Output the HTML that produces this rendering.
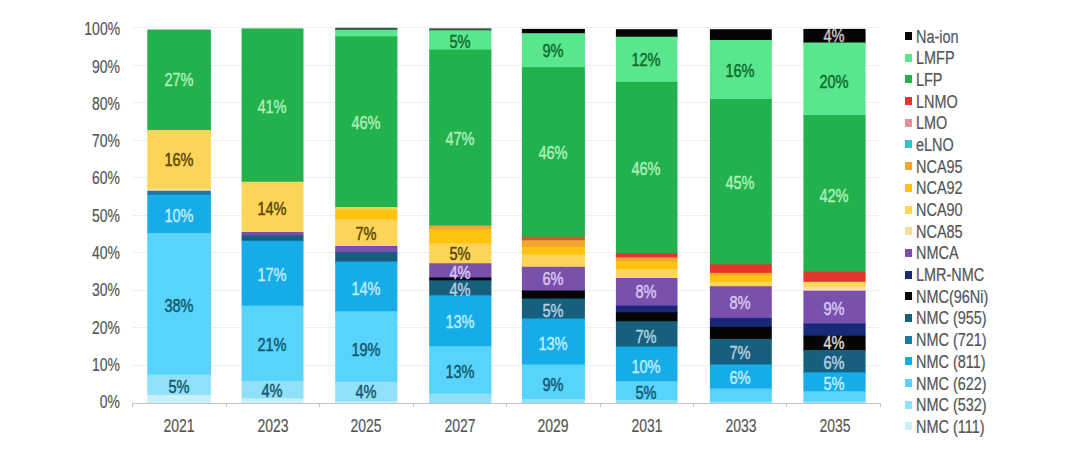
<!DOCTYPE html>
<html><head><meta charset="utf-8"><title>Battery chemistry mix</title>
<style>
html,body{margin:0;padding:0;background:#fff;}
body{width:1082px;height:449px;position:relative;overflow:hidden;font-family:"Liberation Sans",Arial,sans-serif;}
.g{position:absolute;left:131.5px;width:748.5px;height:1px;background:#efefef;}
.ax{position:absolute;left:131.5px;width:749.5px;height:1px;top:403px;background:#c4c4c4;}
.tk{position:absolute;top:403px;width:1px;height:4px;background:#c4c4c4;}
.yl{position:absolute;right:962.4px;font-size:18px;line-height:18px;color:#555;-webkit-text-stroke:0.2px #555;transform-origin:100% 50%;transform:translateY(-50%) scaleX(.775);white-space:nowrap;}
.xl{position:absolute;top:416.7px;font-size:18px;line-height:18px;color:#555;-webkit-text-stroke:0.2px #555;transform:translateX(-50%) scaleX(.775);white-space:nowrap;}
.s{position:absolute;}
.dl{position:absolute;font-size:18px;line-height:18px;-webkit-text-stroke:0.45px currentColor;transform:translate(-50%,-50%) scaleX(.81);white-space:nowrap;}
.lg{position:absolute;left:905px;width:7px;height:8px;}
.lt{position:absolute;left:916px;font-size:18px;line-height:18px;color:#555;-webkit-text-stroke:0.2px #555;transform-origin:0 50%;transform:translateY(-50%) scaleX(.803);white-space:nowrap;}
</style></head><body>

<div class="g" style="top:364.5px"></div>
<div class="g" style="top:327.0px"></div>
<div class="g" style="top:289.5px"></div>
<div class="g" style="top:252.0px"></div>
<div class="g" style="top:214.5px"></div>
<div class="g" style="top:177.0px"></div>
<div class="g" style="top:139.5px"></div>
<div class="g" style="top:102.0px"></div>
<div class="g" style="top:64.5px"></div>
<div class="g" style="top:27.0px"></div>
<div class="ax"></div>
<div class="tk" style="left:132.2px"></div>
<div class="tk" style="left:225.6px"></div>
<div class="tk" style="left:319.1px"></div>
<div class="tk" style="left:412.6px"></div>
<div class="tk" style="left:506.0px"></div>
<div class="tk" style="left:599.5px"></div>
<div class="tk" style="left:692.9px"></div>
<div class="tk" style="left:786.3px"></div>
<div class="tk" style="left:879.8px"></div>
<div class="yl" style="top:402.1px">0%</div>
<div class="yl" style="top:364.8px">10%</div>
<div class="yl" style="top:327.5px">20%</div>
<div class="yl" style="top:290.3px">30%</div>
<div class="yl" style="top:253.0px">40%</div>
<div class="yl" style="top:215.7px">50%</div>
<div class="yl" style="top:178.4px">60%</div>
<div class="yl" style="top:141.1px">70%</div>
<div class="yl" style="top:103.9px">80%</div>
<div class="yl" style="top:66.6px">90%</div>
<div class="yl" style="top:29.3px">100%</div>
<svg width="1082" height="449" style="position:absolute;left:0;top:0">
<rect x="147.30" y="29.50" width="63.60" height="101.50" fill="#22b14c"/>
<rect x="147.30" y="130.00" width="63.60" height="59.50" fill="#fcd458"/>
<rect x="147.30" y="188.50" width="63.60" height="3.30" fill="#fbdca0"/>
<rect x="147.30" y="190.80" width="63.60" height="5.00" fill="#1b7aa5"/>
<rect x="147.30" y="194.80" width="63.60" height="39.20" fill="#15ace8"/>
<rect x="147.30" y="233.00" width="63.60" height="142.50" fill="#58d4fc"/>
<rect x="147.30" y="374.50" width="63.60" height="21.50" fill="#90e0f7"/>
<rect x="147.30" y="395.00" width="63.60" height="8.00" fill="#caeffa"/>
<rect x="241.60" y="28.40" width="61.90" height="154.30" fill="#22b14c"/>
<rect x="241.60" y="181.70" width="61.90" height="51.30" fill="#fcd458"/>
<rect x="241.60" y="232.00" width="61.90" height="4.40" fill="#7a50ad"/>
<rect x="241.60" y="235.40" width="61.90" height="6.30" fill="#16607e"/>
<rect x="241.60" y="240.70" width="61.90" height="65.90" fill="#15ace8"/>
<rect x="241.60" y="305.60" width="61.90" height="76.20" fill="#58d4fc"/>
<rect x="241.60" y="380.80" width="61.90" height="18.60" fill="#90e0f7"/>
<rect x="241.60" y="398.40" width="61.90" height="4.60" fill="#caeffa"/>
<rect x="335.20" y="27.80" width="62.20" height="3.00" fill="#33583f"/>
<rect x="335.20" y="29.80" width="62.20" height="7.60" fill="#5ae68c"/>
<rect x="335.20" y="36.40" width="62.20" height="171.60" fill="#22b14c"/>
<rect x="335.20" y="207.00" width="62.20" height="4.10" fill="#eed24a"/>
<rect x="335.20" y="210.10" width="62.20" height="10.40" fill="#ffc20e"/>
<rect x="335.20" y="219.50" width="62.20" height="27.50" fill="#fcd458"/>
<rect x="335.20" y="246.00" width="62.20" height="7.20" fill="#7a50ad"/>
<rect x="335.20" y="252.20" width="62.20" height="10.40" fill="#16607e"/>
<rect x="335.20" y="261.60" width="62.20" height="50.60" fill="#15ace8"/>
<rect x="335.20" y="311.20" width="62.20" height="71.40" fill="#58d4fc"/>
<rect x="335.20" y="381.60" width="62.20" height="20.90" fill="#90e0f7"/>
<rect x="335.20" y="401.50" width="62.20" height="1.50" fill="#caeffa"/>
<rect x="429.20" y="28.30" width="62.20" height="3.30" fill="#33583f"/>
<rect x="429.20" y="30.30" width="62.20" height="20.30" fill="#5ae68c"/>
<rect x="429.20" y="49.60" width="62.20" height="176.80" fill="#22b14c"/>
<rect x="429.20" y="225.40" width="62.20" height="4.80" fill="#f0a432"/>
<rect x="429.20" y="229.20" width="62.20" height="15.20" fill="#ffc20e"/>
<rect x="429.20" y="243.40" width="62.20" height="20.90" fill="#fcd458"/>
<rect x="429.20" y="263.30" width="62.20" height="15.20" fill="#7a50ad"/>
<rect x="429.20" y="277.50" width="62.20" height="3.80" fill="#050505"/>
<rect x="429.20" y="280.30" width="62.20" height="16.00" fill="#16607e"/>
<rect x="429.20" y="295.30" width="62.20" height="51.90" fill="#15ace8"/>
<rect x="429.20" y="346.20" width="62.20" height="48.30" fill="#58d4fc"/>
<rect x="429.20" y="393.50" width="62.20" height="9.50" fill="#90e0f7"/>
<rect x="521.90" y="28.90" width="63.00" height="5.30" fill="#050505"/>
<rect x="521.90" y="33.20" width="63.00" height="35.00" fill="#5ae68c"/>
<rect x="521.90" y="67.20" width="63.00" height="170.40" fill="#22b14c"/>
<rect x="521.90" y="236.60" width="63.00" height="4.60" fill="#b8642c"/>
<rect x="521.90" y="240.20" width="63.00" height="7.60" fill="#f0a432"/>
<rect x="521.90" y="246.80" width="63.00" height="8.80" fill="#ffc20e"/>
<rect x="521.90" y="254.60" width="63.00" height="13.20" fill="#fcd458"/>
<rect x="521.90" y="266.80" width="63.00" height="24.70" fill="#7a50ad"/>
<rect x="521.90" y="290.50" width="63.00" height="9.00" fill="#050505"/>
<rect x="521.90" y="298.50" width="63.00" height="21.00" fill="#16607e"/>
<rect x="521.90" y="318.50" width="63.00" height="47.00" fill="#15ace8"/>
<rect x="521.90" y="364.50" width="63.00" height="35.50" fill="#58d4fc"/>
<rect x="521.90" y="399.00" width="63.00" height="4.00" fill="#90e0f7"/>
<rect x="615.90" y="29.20" width="61.60" height="8.50" fill="#050505"/>
<rect x="615.90" y="36.70" width="61.60" height="46.20" fill="#5ae68c"/>
<rect x="615.90" y="81.90" width="61.60" height="172.60" fill="#22b14c"/>
<rect x="615.90" y="253.50" width="61.60" height="5.00" fill="#e3352b"/>
<rect x="615.90" y="257.50" width="61.60" height="4.70" fill="#f0a432"/>
<rect x="615.90" y="261.20" width="61.60" height="8.80" fill="#ffc20e"/>
<rect x="615.90" y="269.00" width="61.60" height="10.00" fill="#fcd458"/>
<rect x="615.90" y="278.00" width="61.60" height="28.60" fill="#7a50ad"/>
<rect x="615.90" y="305.60" width="61.60" height="7.70" fill="#19297a"/>
<rect x="615.90" y="312.30" width="61.60" height="9.90" fill="#050505"/>
<rect x="615.90" y="321.20" width="61.60" height="26.30" fill="#16607e"/>
<rect x="615.90" y="346.50" width="61.60" height="35.70" fill="#15ace8"/>
<rect x="615.90" y="381.20" width="61.60" height="19.80" fill="#58d4fc"/>
<rect x="615.90" y="400.00" width="61.60" height="3.00" fill="#90e0f7"/>
<rect x="709.90" y="29.20" width="61.90" height="11.80" fill="#050505"/>
<rect x="709.90" y="40.00" width="61.90" height="60.00" fill="#5ae68c"/>
<rect x="709.90" y="99.00" width="61.90" height="166.40" fill="#22b14c"/>
<rect x="709.90" y="264.40" width="61.90" height="9.40" fill="#e3352b"/>
<rect x="709.90" y="272.80" width="61.90" height="3.70" fill="#f0a432"/>
<rect x="709.90" y="275.50" width="61.90" height="7.20" fill="#ffc20e"/>
<rect x="709.90" y="281.70" width="61.90" height="5.50" fill="#fcd458"/>
<rect x="709.90" y="286.20" width="61.90" height="32.70" fill="#7a50ad"/>
<rect x="709.90" y="317.90" width="61.90" height="9.90" fill="#19297a"/>
<rect x="709.90" y="326.80" width="61.90" height="13.10" fill="#050505"/>
<rect x="709.90" y="338.90" width="61.90" height="26.60" fill="#16607e"/>
<rect x="709.90" y="364.50" width="61.90" height="24.90" fill="#15ace8"/>
<rect x="709.90" y="388.40" width="61.90" height="14.10" fill="#58d4fc"/>
<rect x="709.90" y="401.50" width="61.90" height="1.50" fill="#90e0f7"/>
<rect x="803.40" y="28.90" width="62.20" height="14.60" fill="#050505"/>
<rect x="803.40" y="42.50" width="62.20" height="73.60" fill="#5ae68c"/>
<rect x="803.40" y="115.10" width="62.20" height="157.50" fill="#22b14c"/>
<rect x="803.40" y="271.60" width="62.20" height="11.20" fill="#e3352b"/>
<rect x="803.40" y="281.80" width="62.20" height="5.90" fill="#fcd458"/>
<rect x="803.40" y="286.70" width="62.20" height="5.00" fill="#fbdca0"/>
<rect x="803.40" y="290.70" width="62.20" height="33.80" fill="#7a50ad"/>
<rect x="803.40" y="323.50" width="62.20" height="13.20" fill="#19297a"/>
<rect x="803.40" y="335.70" width="62.20" height="15.30" fill="#050505"/>
<rect x="803.40" y="350.00" width="62.20" height="23.30" fill="#16607e"/>
<rect x="803.40" y="372.30" width="62.20" height="19.90" fill="#15ace8"/>
<rect x="803.40" y="391.20" width="62.20" height="11.10" fill="#58d4fc"/>
<rect x="803.40" y="401.30" width="62.20" height="1.70" fill="#90e0f7"/>
</svg>
<div class="dl" style="left:178.6px;top:80.1px;color:#acf0b8">27%</div>
<div class="dl" style="left:178.6px;top:160.4px;color:#5a4500">16%</div>
<div class="dl" style="left:178.6px;top:215.9px;color:#bdeeff">10%</div>
<div class="dl" style="left:178.6px;top:306.0px;color:#14566f">38%</div>
<div class="dl" style="left:178.6px;top:386.5px;color:#14566f">5%</div>
<div class="xl" style="left:179.1px">2021</div>
<div class="dl" style="left:272.1px;top:106.7px;color:#acf0b8">41%</div>
<div class="dl" style="left:272.1px;top:209.3px;color:#5a4500">14%</div>
<div class="dl" style="left:272.1px;top:274.5px;color:#bdeeff">17%</div>
<div class="dl" style="left:272.1px;top:345.1px;color:#14566f">21%</div>
<div class="dl" style="left:272.1px;top:390.5px;color:#14566f">4%</div>
<div class="xl" style="left:272.6px">2023</div>
<div class="dl" style="left:365.8px;top:123.3px;color:#acf0b8">46%</div>
<div class="dl" style="left:365.8px;top:234.0px;color:#5a4500">7%</div>
<div class="dl" style="left:365.8px;top:289.2px;color:#bdeeff">14%</div>
<div class="dl" style="left:365.8px;top:349.5px;color:#14566f">19%</div>
<div class="dl" style="left:365.8px;top:391.9px;color:#14566f">4%</div>
<div class="xl" style="left:366.3px">2025</div>
<div class="dl" style="left:459.8px;top:41.7px;color:#0d6a2e">5%</div>
<div class="dl" style="left:459.8px;top:138.9px;color:#acf0b8">47%</div>
<div class="dl" style="left:459.8px;top:254.4px;color:#5a4500">5%</div>
<div class="dl" style="left:459.8px;top:272.5px;color:#d8c8f4">4%</div>
<div class="dl" style="left:459.8px;top:290.1px;color:#b4d2e2">4%</div>
<div class="dl" style="left:459.8px;top:322.0px;color:#bdeeff">13%</div>
<div class="dl" style="left:459.8px;top:371.9px;color:#14566f">13%</div>
<div class="xl" style="left:460.3px">2027</div>
<div class="dl" style="left:552.9px;top:50.6px;color:#0d6a2e">9%</div>
<div class="dl" style="left:552.9px;top:152.8px;color:#acf0b8">46%</div>
<div class="dl" style="left:552.9px;top:279.0px;color:#d8c8f4">6%</div>
<div class="dl" style="left:552.9px;top:310.5px;color:#b4d2e2">5%</div>
<div class="dl" style="left:552.9px;top:344.0px;color:#bdeeff">13%</div>
<div class="dl" style="left:552.9px;top:385.1px;color:#14566f">9%</div>
<div class="xl" style="left:553.4px">2029</div>
<div class="dl" style="left:646.2px;top:60.0px;color:#0d6a2e">12%</div>
<div class="dl" style="left:646.2px;top:168.9px;color:#acf0b8">46%</div>
<div class="dl" style="left:646.2px;top:292.4px;color:#d8c8f4">8%</div>
<div class="dl" style="left:646.2px;top:336.7px;color:#b4d2e2">7%</div>
<div class="dl" style="left:646.2px;top:367.4px;color:#bdeeff">10%</div>
<div class="dl" style="left:646.2px;top:392.5px;color:#14566f">5%</div>
<div class="xl" style="left:646.7px">2031</div>
<div class="dl" style="left:739.8px;top:70.6px;color:#0d6a2e">16%</div>
<div class="dl" style="left:739.8px;top:182.9px;color:#acf0b8">45%</div>
<div class="dl" style="left:739.8px;top:303.4px;color:#d8c8f4">8%</div>
<div class="dl" style="left:739.8px;top:353.3px;color:#b4d2e2">7%</div>
<div class="dl" style="left:739.8px;top:378.4px;color:#bdeeff">6%</div>
<div class="xl" style="left:740.8px">2033</div>
<div class="dl" style="left:833.5px;top:36.1px;color:#c8c8c8">4%</div>
<div class="dl" style="left:833.5px;top:81.8px;color:#0d6a2e">20%</div>
<div class="dl" style="left:833.5px;top:196.1px;color:#acf0b8">42%</div>
<div class="dl" style="left:833.5px;top:309.0px;color:#d8c8f4">9%</div>
<div class="dl" style="left:833.5px;top:343.3px;color:#d8d8d8">4%</div>
<div class="dl" style="left:833.5px;top:362.8px;color:#b4d2e2">6%</div>
<div class="dl" style="left:833.5px;top:384.0px;color:#bdeeff">5%</div>
<div class="xl" style="left:834.5px">2035</div>
<div class="lg" style="top:32.0px;background:#050505"></div>
<div class="lt" style="top:36.5px">Na-ion</div>
<div class="lg" style="top:53.7px;background:#5ae68c"></div>
<div class="lt" style="top:58.2px">LMFP</div>
<div class="lg" style="top:75.4px;background:#22b14c"></div>
<div class="lt" style="top:79.9px">LFP</div>
<div class="lg" style="top:97.1px;background:#e3352b"></div>
<div class="lt" style="top:101.6px">LNMO</div>
<div class="lg" style="top:118.7px;background:#e4919c"></div>
<div class="lt" style="top:123.2px">LMO</div>
<div class="lg" style="top:140.4px;background:#35c4c4"></div>
<div class="lt" style="top:144.9px">eLNO</div>
<div class="lg" style="top:162.1px;background:#f0a432"></div>
<div class="lt" style="top:166.6px">NCA95</div>
<div class="lg" style="top:183.8px;background:#ffc20e"></div>
<div class="lt" style="top:188.3px">NCA92</div>
<div class="lg" style="top:205.5px;background:#fcd458"></div>
<div class="lt" style="top:210.0px">NCA90</div>
<div class="lg" style="top:227.2px;background:#fbdca0"></div>
<div class="lt" style="top:231.7px">NCA85</div>
<div class="lg" style="top:248.9px;background:#7a50ad"></div>
<div class="lt" style="top:253.4px">NMCA</div>
<div class="lg" style="top:270.5px;background:#19297a"></div>
<div class="lt" style="top:275.0px">LMR-NMC</div>
<div class="lg" style="top:292.2px;background:#050505"></div>
<div class="lt" style="top:296.7px">NMC(96Ni)</div>
<div class="lg" style="top:313.9px;background:#16607e"></div>
<div class="lt" style="top:318.4px">NMC (955)</div>
<div class="lg" style="top:335.6px;background:#1b7aa5"></div>
<div class="lt" style="top:340.1px">NMC (721)</div>
<div class="lg" style="top:357.3px;background:#15ace8"></div>
<div class="lt" style="top:361.8px">NMC (811)</div>
<div class="lg" style="top:379.0px;background:#58d4fc"></div>
<div class="lt" style="top:383.5px">NMC (622)</div>
<div class="lg" style="top:400.7px;background:#90e0f7"></div>
<div class="lt" style="top:405.2px">NMC (532)</div>
<div class="lg" style="top:422.3px;background:#caeffa"></div>
<div class="lt" style="top:426.8px">NMC (111)</div>
</body></html>
